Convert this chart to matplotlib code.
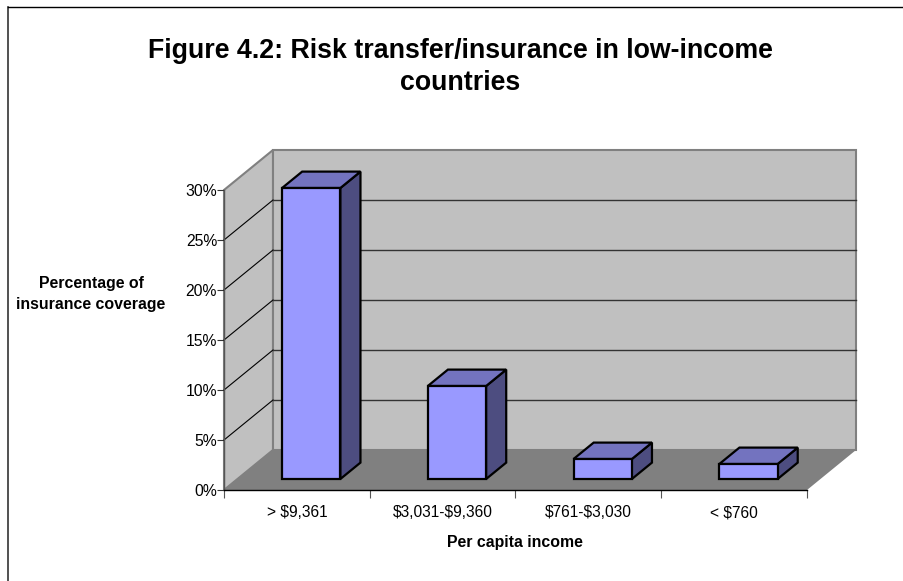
import matplotlib

matplotlib.use("Agg")
import matplotlib.pyplot as plt
from matplotlib.patches import Polygon

categories = [r"> \$9,361", r"\$3,031-\$9,360", r"\$761-\$3,030", r"< \$760"]
coverage = [29.1, 9.3, 2.0, 1.5]
y_ticks = [0, 5, 10, 15, 20, 25, 30]
y_tick_labels = ["0%", "5%", "10%", "15%", "20%", "25%", "30%"]

W, H = 904, 581
# front plane of the fake 3d box, in pixels
LEFT, RIGHT, BOTTOM, TOP = 224, 807, 490, 190
# how far the back wall is shifted, in data units (49 px right, 40 px up)
DX = 49 / ((RIGHT - LEFT) / 4)
DY = 40 / ((BOTTOM - TOP) / 30)

plt.rcParams["font.family"] = ["Liberation Sans", "DejaVu Sans"]

fig = plt.figure(figsize=(W / 100, H / 100), dpi=100)
ax = fig.add_axes([LEFT / W, 1 - BOTTOM / H, (RIGHT - LEFT) / W, (BOTTOM - TOP) / H])
ax.set_xlim(0, 4)
ax.set_ylim(0, 30)
ax.patch.set_visible(False)


def shift(x, y, depth):
    return (x + depth * DX, y + depth * DY)


def face(points, depth_color, edge="none", lw=0.0, z=1):
    ax.add_patch(Polygon(points, closed=True, facecolor=depth_color, edgecolor=edge, linewidth=lw,
                         clip_on=False, zorder=z, joinstyle="miter"))


wall = "#c0c0c0"
wall_edge = "#808080"
# walls and floor
face([shift(0, 0, 0), shift(0, 0, 1), shift(0, 30, 1), shift(0, 30, 0)], wall, wall_edge, 1.5)
face([shift(0, 0, 1), shift(4, 0, 1), shift(4, 30, 1), shift(0, 30, 1)], wall, wall_edge, 1.5)
face([shift(0, 0, 0), shift(4, 0, 0), shift(4, 0, 1), shift(0, 0, 1)], "#808080", "none", 0)

# gridlines run along the left wall then across the back wall
for val in y_ticks[1:-1]:
    xs, ys = zip(shift(0, val, 0), shift(0, val, 1), shift(4, val, 1))
    ax.plot(xs[:2], ys[:2], color="black", lw=0.8, clip_on=False, zorder=2)
    ax.plot(xs[1:], ys[1:], color="#333333", lw=1.0, clip_on=False, zorder=2)

# bars
front, side, top = "#9999ff", "#4d4d80", "#7373bf"
d0, d1 = 0.275, 0.685
width = 0.4
nudge = 0.006
for i, val in enumerate(coverage):
    x0, x1 = i + 0.5 - width / 2 + nudge, i + 0.5 + width / 2 + nudge
    face([shift(x1, 0, d0), shift(x1, 0, d1), shift(x1, val, d1), shift(x1, val, d0)], side, "black", 1.6, 3)
    face([shift(x0, val, d0), shift(x1, val, d0), shift(x1, val, d1), shift(x0, val, d1)], top, "black", 1.6, 3)
    face([shift(x0, 0, d0), shift(x1, 0, d0), shift(x1, val, d0), shift(x0, val, d0)], front, "black", 1.6, 4)

# front axes lines and ticks
for s in ["top", "right"]:
    ax.spines[s].set_visible(False)
ax.spines["left"].set_color("#555555")
ax.spines["left"].set_linewidth(1.0)
ax.spines["bottom"].set_color("black")
ax.spines["bottom"].set_linewidth(1.0)
ax.spines["bottom"].set_zorder(5)
ax.spines["left"].set_zorder(5)
ax.set_yticks(y_ticks, y_tick_labels)
ax.set_xticks(range(5), [])
ax.set_xticks([i + 0.5 for i in range(4)], categories, minor=True)
ax.tick_params(axis="y", length=5, width=0.8, color="#333333", labelsize=11.3, pad=0, labelcolor="black")
ax.tick_params(axis="x", which="major", length=6, width=0.8, color="#555555")
ax.tick_params(axis="x", which="minor", length=0, labelsize=11.2, pad=11)


def fig_text(x, y, s, **kw):
    fig.text(x / W, 1 - y / H, s, ha="center", va="center", **kw)


fig_text(460, 67, "Figure 4.2: Risk transfer/insurance in low-income\ncountries",
         fontsize=19.3, fontweight="bold", linespacing=1.28)
fig_text(91, 294, "Percentage of\ninsurance coverage", fontsize=11.4, fontweight="bold", linespacing=1.42)
fig_text(515, 542, "Per capita income", fontsize=11.4, fontweight="bold")

# chart frame, only top and left survive the crop
fig.add_artist(plt.Line2D([8 / W, 8 / W], [0, 1 - 7 / H], color="#333333", lw=1.2))
fig.add_artist(plt.Line2D([8 / W, 1], [1 - 7 / H, 1 - 7 / H], color="black", lw=1.0))

fig.savefig("out.png", dpi=100)
